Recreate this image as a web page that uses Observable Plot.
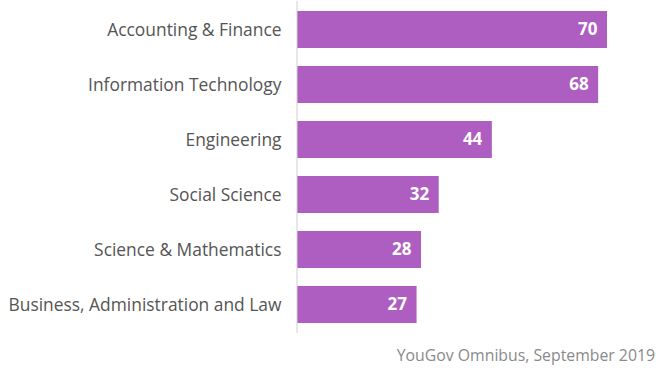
<!DOCTYPE html>
<html>
<head>
<meta charset="utf-8">
<script src="https://cdn.jsdelivr.net/npm/d3@7"></script>
<script src="https://cdn.jsdelivr.net/npm/@observablehq/plot@0.6"></script>
<style>
  html, body { margin: 0; padding: 0; background: #fff; }
  #chart { width: 667px; }
  .caption { font-family: "Open Sans", sans-serif; font-size: 15.8px; color: #8a8a8a; text-align: right; padding-right: 12px; margin-top: 8px; }
</style>
</head>
<body>
<div id="chart"></div>
<script>
const categories = ["Accounting & Finance", "Information Technology", "Engineering", "Social Science", "Science & Mathematics", "Business, Administration and Law"];
const values = [70, 68, 44, 32, 28, 27];
const caption = "YouGov Omnibus, September 2019";

const data = categories.map((c, i) => ({category: c, value: values[i]}));

const plot = Plot.plot({
  width: 667,
  height: 336,
  marginLeft: 297,
  marginRight: 60,
  marginTop: 1,
  marginBottom: 3,
  style: {fontFamily: "'Open Sans', sans-serif", background: "#fff"},
  x: {domain: [0, 70], axis: null},
  y: {domain: categories, padding: 0.33, paddingOuter: 0.18, label: null},
  marks: [
    Plot.axisY({tickSize: 0, tickPadding: 16, fontSize: 17.4, fill: "#555", label: null}),
    Plot.barX(data, {x: "value", y: "category", fill: "#ae5ec0"}),
    Plot.ruleX([0], {stroke: "#d0d0d0", dx: -0.5}),
    Plot.text(data, {x: "value", y: "category", text: d => String(d.value), textAnchor: "end", dx: -10, fill: "white", fontWeight: "bold", fontSize: 17})
  ]
});
document.getElementById("chart").appendChild(plot);
const cap = document.createElement("div");
cap.className = "caption";
cap.textContent = caption;
document.getElementById("chart").appendChild(cap);
</script>
</body>
</html>
